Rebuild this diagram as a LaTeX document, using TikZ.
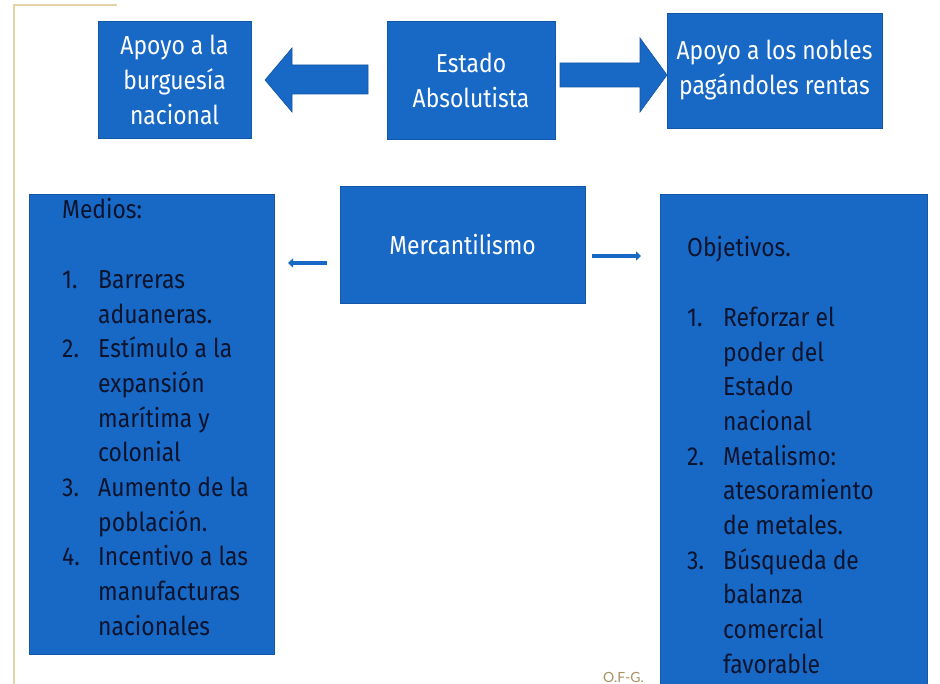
\documentclass[tikz,border=0pt]{standalone}
\usepackage{fontspec}
\setmainfont{Fira Sans}[FakeStretch=0.88]
\newfontfamily\sigfont{Lato}
\usetikzlibrary{arrows.meta}
\definecolor{boxblue}{RGB}{24,104,197}
\definecolor{edgeblue}{RGB}{20,86,168}
\definecolor{inkdark}{RGB}{12,20,45}
\definecolor{framegold}{RGB}{230,212,168}
\definecolor{sigcolor}{RGB}{168,146,100}
\begin{document}
\begin{tikzpicture}[x=1pt,y=-1pt,
  bluebox/.style={draw=edgeblue,line width=0.8pt,fill=boxblue,inner sep=0pt,text=white,align=center,font=\fontsize{26}{35}\selectfont},
  listtext/.style={inner sep=0pt,anchor=base west,text=inkdark,font=\fontsize{26}{34.7}\selectfont},
  bigarrow/.style={fill=boxblue,draw=edgeblue,line width=0.6pt},
  thinarrow/.style={draw=boxblue,line width=4pt,-{Triangle[length=5pt,width=9pt]}}]
\useasboundingbox[fill=white] (0,0) rectangle (940,684);
\draw[framegold,line width=1.2pt] (117,5) -- (14,5) -- (14,684);

\node[bluebox,minimum width=153,minimum height=117] (burg) at (174.5,79.5) {Apoyo a la\\burguesía\\nacional};
\node[bluebox,minimum width=168,minimum height=118] (estado) at (471,80) {Estado\\Absolutista};
\node[bluebox,minimum width=215,minimum height=115] (nobles) at (774.5,70.5) {Apoyo a los nobles\\pagándoles rentas};
\node[bluebox,minimum width=245,minimum height=117] (merc) at (462.5,244.5) {Mercantilismo};
\node[bluebox,minimum width=245,minimum height=460] (medios) at (151.5,424) {};
\node[bluebox,minimum width=267,minimum height=496] (obj) at (793.5,442) {};

\node[listtext] (mediostxt) at (62,219) {\begin{tabular}[t]{@{}p{36pt}@{}l@{}}
\multicolumn{2}{@{}l@{}}{Medios:}\\
 & \\
1. & Barreras\\
 & aduaneras.\\
2. & Estímulo a la\\
 & expansión\\
 & marítima y\\
 & colonial\\
3. & Aumento de la\\
 & población.\\
4. & Incentivo a las\\
 & manufacturas\\
 & nacionales
\end{tabular}};

\node[listtext] (objtxt) at (687,257) {\begin{tabular}[t]{@{}p{36pt}@{}l@{}}
\multicolumn{2}{@{}l@{}}{Objetivos.}\\
 & \\
1. & Reforzar el\\
 & poder del\\
 & Estado\\
 & nacional\\
2. & Metalismo:\\
 & atesoramiento\\
 & de metales.\\
3. & Búsqueda de\\
 & balanza\\
 & comercial\\
 & favorable
\end{tabular}};

% big arrows
\draw[bigarrow] (368,65) -- (292,65) -- (292,48) -- (265,80) -- (292,112) -- (292,94) -- (368,94) -- cycle;
\draw[bigarrow] (560,63) -- (640,63) -- (640,38) -- (667,75) -- (640,112) -- (640,87) -- (560,87) -- cycle;

% small arrows
\coordinate (mlstart) at (327,263);
\coordinate (mlend) at (288,263);
\coordinate (mrstart) at (592,256);
\coordinate (mrend) at (641,256);
\draw[thinarrow] (mlstart) -- (mlend);
\draw[thinarrow,line width=4.5pt] (mrstart) -- (mrend);

\node[font=\sigfont\fontsize{14}{16}\selectfont,text=sigcolor,anchor=base west,inner sep=0pt] (sig) at (603,682) {O.F-G.};
\end{tikzpicture}
\end{document}
